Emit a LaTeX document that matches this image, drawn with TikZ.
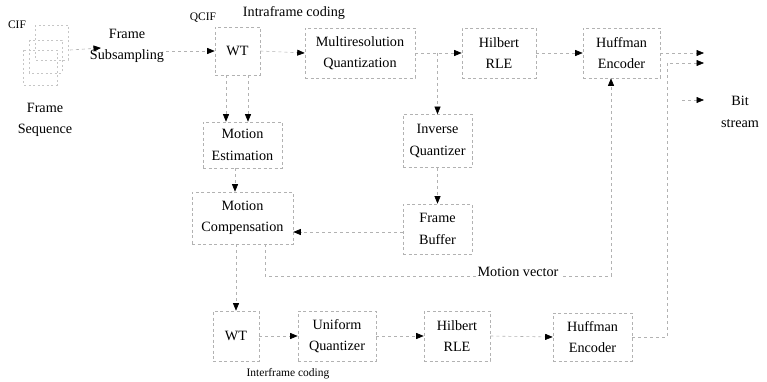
\documentclass[tikz,border=0pt]{standalone}
\usepackage{fontspec}
\setmainfont{Liberation Serif}
\usetikzlibrary{arrows.meta}
\begin{document}
\begin{tikzpicture}[x=1pt,y=-1pt,
  lbl/.style={font=\fontsize{14.2}{21.5}\selectfont, align=center, inner sep=0pt},
  small/.style={font=\fontsize{11.5}{13}\selectfont, inner sep=0pt},
  blk/.style={lbl, draw=gray!60, dash pattern=on 3pt off 2.5pt, line width=0.6pt},
  frm/.style={draw=gray!45, dash pattern=on 2pt off 2.5pt, line width=0.6pt},
  conn/.style={draw=gray!60, dash pattern=on 3pt off 3pt, line width=0.6pt,
     -{Triangle[length=7.5pt,width=6pt,color=black]}},
  plain/.style={draw=gray!60, dash pattern=on 3pt off 3pt, line width=0.6pt}]
\useasboundingbox (0,0) rectangle (767,382);

% frame sequence
\draw[frm] (35,25) rectangle (68,60);
\draw[frm] (29,40) rectangle (62,73);
\draw[frm] (23,50) rectangle (57,85);
\node[small] (cif) at (17,25) {CIF};
\node[lbl] (fseq) at (45,120) {Frame\\Sequence};
\coordinate (fseqout) at (70,50);

\node[lbl] (fs) at (127,46) {Frame\\Subsampling};
\coordinate (fsin) at (101,48);
\coordinate (fsout) at (166,51);
\node[small] (qcif) at (203,18) {QCIF};
\node[lbl] (intra) at (294,13) {Intraframe coding};

% top row
\node[blk, minimum width=45pt, minimum height=48pt] (wt1) at (237.5,51) {WT};
\node[blk, minimum width=110pt, minimum height=50pt] (mq) at (360,53) {Multiresolution\\Quantization};
\node[blk, minimum width=74pt, minimum height=50pt] (hr1) at (499,53) {Hilbert\\RLE};
\node[blk, minimum width=77pt, minimum height=50pt] (hf1) at (621.5,53) {Huffman\\Encoder};

% middle
\node[blk, minimum width=79pt, minimum height=46pt] (me) at (242.5,145) {Motion\\Estimation};
\node[blk, minimum width=101pt, minimum height=52pt] (mc) at (242.5,218) {Motion\\Compensation};
\node[blk, minimum width=69pt, minimum height=53pt] (iq) at (437.5,141) {Inverse\\Quantizer};
\node[blk, minimum width=69pt, minimum height=50pt] (fb) at (437.5,229) {Frame\\Buffer};

% bottom row
\node[blk, minimum width=46pt, minimum height=50pt] (wt2) at (236,336) {WT};
\node[blk, minimum width=78pt, minimum height=50pt] (uq) at (337,336) {Uniform\\Quantizer};
\node[blk, minimum width=66pt, minimum height=50pt] (hr2) at (457,336) {Hilbert\\RLE};
\node[blk, minimum width=79pt, minimum height=48pt] (hf2) at (592.5,337) {Huffman\\Encoder};
\node[small] (inter) at (288,374) {Interframe coding};

% output
\node[lbl] (bits) at (740,112) {Bit\\stream};
\coordinate (o1) at (704,53);
\coordinate (o2) at (704,63);
\coordinate (o3) at (704,100);
\coordinate (o3s) at (682,100);
\coordinate (v1) at (667,337);
\coordinate (v2) at (667,63);

% connectors
\draw[conn] (fseqout) -- (fsin);
\draw[conn] (fsout) -- (wt1.west);
\draw[conn] (wt1.east) -- (mq.west);
\draw[conn] (mq.east) -- (hr1.west);
\coordinate (br) at (437.5,53);
\draw[conn] (br) -- (iq.north);
\draw[conn] (hr1.east) -- (hf1.west);
\draw[conn] (hf1.east) -- (o1);
\draw[conn] (hf2.east) -- (v1) -- (v2) -- (o2);
\draw[conn] (o3s) -- (o3);

\draw[conn] ([xshift=-11.5pt]wt1.south) -- ([xshift=-11.5pt]wt1.south |- me.north);
\draw[conn] ([xshift=10.5pt]wt1.south) -- ([xshift=10.5pt]wt1.south |- me.north);
\draw[conn] ([xshift=-7.5pt]me.south) -- ([xshift=-7.5pt]me.south |- mc.north);
\draw[conn] (iq.south) -- (fb.north);
\draw[conn] ([yshift=-3pt]fb.west) -- ([yshift=-3pt]fb.west -| mc.east);
\draw[conn] (mc.south -| wt2.north) -- (wt2.north);

\coordinate (mv0) at (265,244);
\coordinate (mv1) at (265,276);
\coordinate (mv2) at (611,276);
\draw[conn] (mv0) -- (mv1) -- (mv2) -- (mv2 |- hf1.south);
\node[lbl, fill=white, inner sep=2pt] (mvl) at (518,272) {Motion vector};

\draw[conn] (wt2.east) -- (uq.west);
\draw[conn] (uq.east) -- (hr2.west);
\draw[conn] (hr2.east) -- (hf2.west);
\end{tikzpicture}
\end{document}
